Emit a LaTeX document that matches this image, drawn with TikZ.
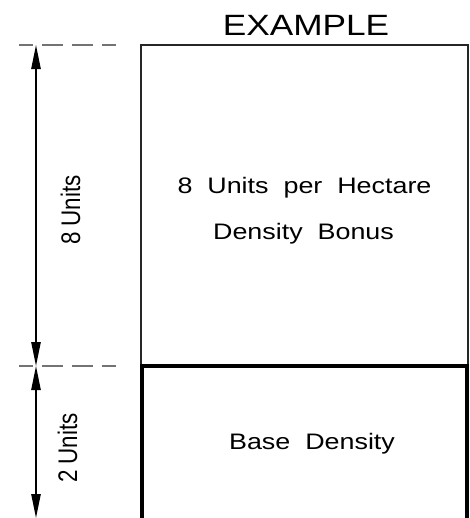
\documentclass[tikz,border=0pt]{standalone}
\usepackage{fontspec}
\setmainfont{Liberation Sans}
\usetikzlibrary{arrows.meta}

\begin{document}
\begin{tikzpicture}[x=0.75pt,y=-0.75pt]

    \tikzset{extline/.style={draw=black!55, line width=1.5pt, dash pattern=on 15.75pt off 6.75pt, dash phase=5.25pt}}
    \tikzset{dimline/.style={draw=black, line width=1.1pt, {Triangle[length=18pt,width=7pt]}-{Triangle[length=18pt,width=7pt]}}}
    \tikzset{lbl/.style={font=\fontsize{16.8}{20}\selectfont, inner sep=0pt, xscale=1.2, anchor=base}}

    \useasboundingbox (0,0) rectangle (470,518);

    \node[lbl, font=\fontsize{22}{26}\selectfont] (title) at (306,35) {EXAMPLE};

    % density boxes
    \draw[line width=1.1pt, black!85] (141,45) rectangle (468,366);
    \draw[line width=3pt] (142,522) -- (142,366) -- (467,366) -- (467,522);

    \node[lbl] (bonusA) at (304.5,193) {8~~Units~~per~~Hectare};
    \node[lbl] (bonusB) at (303.5,239) {Density~~Bonus};
    \node[lbl] (base) at (312,449) {Base~~Density};

    % extension lines
    \coordinate (extTopL) at (19,45);
    \coordinate (extTopR) at (116,45);
    \coordinate (extMidL) at (19,366);
    \coordinate (extMidR) at (116,366);
    \draw[extline] (extTopL) -- (extTopR);
    \draw[extline] (extMidL) -- (extMidR);

    % dimensions
    \coordinate (dimTop) at (36,45);
    \coordinate (dimMid) at (36,366);
    \coordinate (dimBot) at (36,518);
    \draw[dimline] (dimTop) -- (dimMid);
    \draw[dimline] (dimMid) -- (dimBot);

    \node[lbl, rotate=90] (dimA) at (80,210) {8 Units};
    \node[lbl, rotate=90] (dimB) at (77,448) {2 Units};

\end{tikzpicture}
\end{document}
